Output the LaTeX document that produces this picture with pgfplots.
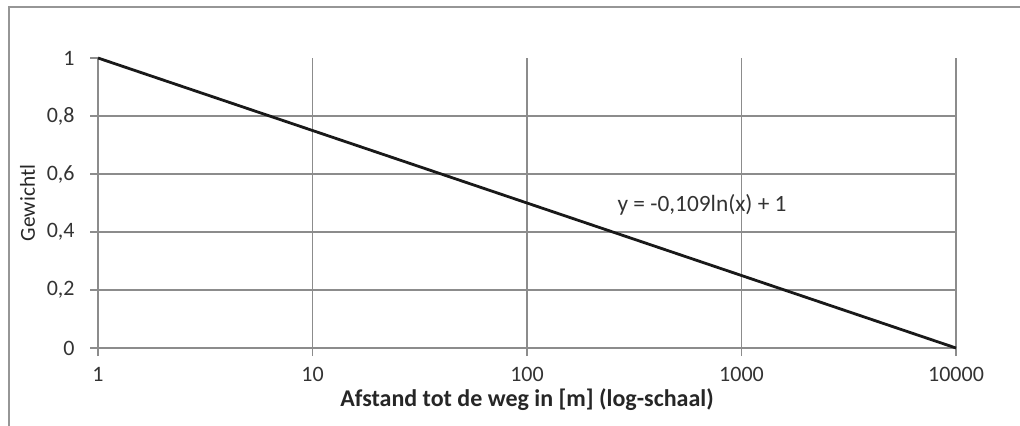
\documentclass[border=0pt]{standalone}
\usepackage{pgfplots}
\pgfplotsset{compat=1.18}
\usepackage{fontspec}
\setmainfont{Carlito}
\definecolor{gridc}{RGB}{140,140,140}
\definecolor{framec}{RGB}{150,150,150}
\begin{document}
\begin{tikzpicture}[x=1pt,y=1pt]
\useasboundingbox (0,0) rectangle (765,318.75);
\begin{scope}
\clip (0,0) rectangle (765,318.75);
\draw[framec, line width=1.3pt] (6.75,-20) rectangle (790,313.5);
\end{scope}
\begin{axis}[
  at={(73.5pt,57.75pt)}, anchor=south west,
  scale only axis, width=643.5pt, height=217.5pt,
  xmode=log, log basis x=10,
  xmin=1, xmax=10000, ymin=0, ymax=1,
  xtick={1,10,100,1000,10000},
  xticklabels={1,10,100,1000,10000},
  ytick={0,0.2,0.4,0.6,0.8,1},
  yticklabels={0,{0,2},{0,4},{0,6},{0,8},1},
  minor tick num=0, minor xtick={},
  axis x line*=bottom, axis y line*=left,
  axis line style={gridc, line width=0.8pt},
  tick align=outside, major tick length=6pt,
  tick style={gridc, line width=0.8pt},
  xmajorgrids, major grid style={gridc, line width=0.8pt},
  extra y ticks={0.2,0.4,0.6,0.8}, extra y tick labels={},
  extra y tick style={ymajorgrids=true, major tick length=0pt},
  tick label style={font=\fontsize{16.5}{19}\selectfont, text=black!80},
  /pgf/number format/assume math mode=true,
  yticklabel style={xshift=-8pt},
  xticklabel style={yshift=-5pt},
  xlabel={\textbf{Afstand tot de weg in [m] (log-schaal)}},
  xlabel style={font=\fontsize{18}{21}\selectfont, text=black!85, yshift=2pt},
  ylabel={Gewichtl},
  ylabel style={font=\fontsize{16}{19}\selectfont, text=black!85, yshift=-4pt},
  clip=false,
]
\addplot[black!90, line width=2.1pt] coordinates {(1,1) (10,0.75) (100,0.5) (1000,0.25) (10000,0)};
\node[font=\fontsize{17.5}{20}\selectfont, text=black!80] at (axis cs:655,0.493) {y = -0,109ln(x) + 1};
\end{axis}
\end{tikzpicture}
\end{document}
